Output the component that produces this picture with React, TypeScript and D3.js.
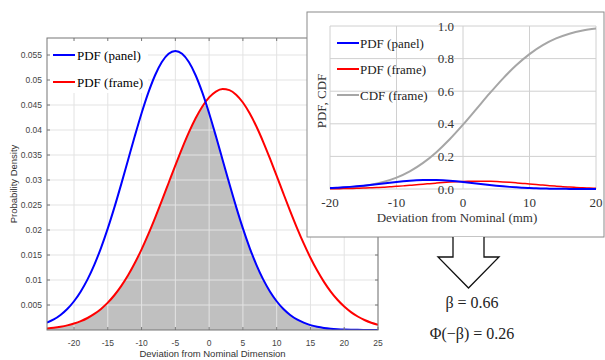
import React from "react";
import * as d3 from "d3";

// ---------- data ----------
const xValues = d3.range(-24, 26, 1); // -24 .. 25
const panelPdf = [
  0.00146, 0.00211, 0.00301, 0.0042, 0.00575, 0.00771, 0.01012, 0.01303, 0.01644, 0.02032,
  0.02462, 0.02923, 0.03402, 0.03879, 0.04335, 0.04747, 0.05095, 0.05359, 0.05524, 0.0558,
  0.05524, 0.05359, 0.05095, 0.04747, 0.04335, 0.03879, 0.03402, 0.02923, 0.02462, 0.02032,
  0.01644, 0.01303, 0.01012, 0.00771, 0.00575, 0.0042, 0.00301, 0.00211, 0.00146, 0.00098,
  0.00065, 0.00042, 0.00027, 0.00017, 0.0001, 0.00006, 0.00004, 0.00002, 0.00001, 0.00001,
];
const framePdf = [
  0.00031, 0.00045, 0.00065, 0.00092, 0.00129, 0.00177, 0.0024, 0.00321, 0.00422, 0.00547,
  0.007, 0.00882, 0.01094, 0.01339, 0.01613, 0.01916, 0.02243, 0.02587, 0.0294, 0.03292,
  0.03633, 0.03951, 0.04234, 0.0447, 0.04651, 0.04769, 0.04819, 0.04797, 0.04707, 0.0455,
  0.04334, 0.04069, 0.03764, 0.03431, 0.03081, 0.02727, 0.02379, 0.02044, 0.01731, 0.01445,
  0.01188, 0.00963, 0.00769, 0.00605, 0.00469, 0.00358, 0.0027, 0.002, 0.00146, 0.00105,
];
const cdfX = [-20, -18, -16, -14, -12, -10, -8, -6, -4, -2, 0, 2, 4, 6, 8, 10, 12, 14, 16, 18, 20];
const frameCdf = [
  0.0036, 0.0072, 0.0137, 0.0248, 0.0426, 0.0696, 0.1082, 0.1601, 0.2261, 0.3053, 0.3948,
  0.4904, 0.5863, 0.6775, 0.759, 0.8277, 0.8826, 0.9236, 0.9528, 0.9723, 0.9845,
];
const mainXTicks = [-20, -15, -10, -5, 0, 5, 10, 15, 20, 25];
const mainYTicks = [0.005, 0.01, 0.015, 0.02, 0.025, 0.03, 0.035, 0.04, 0.045, 0.05, 0.055];
const mainYTickLabels = ["0.005", "0.01", "0.015", "0.02", "0.025", "0.03", "0.035", "0.04", "0.045", "0.05", "0.055"];
const insetXTicks = [-20, -10, 0, 10, 20];
const insetYTicks = [0, 0.2, 0.4, 0.6, 0.8, 1.0];
const insetYTickLabels = ["0.0", "0.2", "0.4", "0.6", "0.8", "1.0"];
const mainLegend = ["PDF (panel)", "PDF (frame)"];
const insetLegend = ["PDF (panel)", "PDF (frame)", "CDF (frame)"];
const betaText = "β = 0.66";
const probText = "Φ(−β) = 0.26";

const SANS = "'Liberation Sans', Arial, Helvetica, sans-serif";
const SERIF = "'Liberation Serif', 'Times New Roman', serif";

export default function App() {
  // main chart
  const mL = 47, mR = 378, mT = 38, mB = 330;
  const x = d3.scaleLinear().domain([-24, 25]).range([mL, mR]);
  const y = d3.scaleLinear().domain([0, 0.0584]).range([mB, mT]);
  const pts = xValues.map((v, i) => ({ x: v, p: panelPdf[i], f: framePdf[i] }));
  const linePanel = d3.line<any>().x(d => x(d.x)).y(d => y(d.p)).curve(d3.curveMonotoneX);
  const lineFrame = d3.line<any>().x(d => x(d.x)).y(d => y(d.f)).curve(d3.curveMonotoneX);
  const areaPanel = d3.area<any>().x(d => x(d.x)).y0(y(0)).y1(d => y(d.p)).curve(d3.curveMonotoneX);
  const areaFrame = d3.area<any>().x(d => x(d.x)).y0(y(0)).y1(d => y(d.f)).curve(d3.curveMonotoneX);

  // inset chart
  const iL = 330, iR = 596, iT = 26, iB = 189;
  const ix = d3.scaleLinear().domain([-20, 20]).range([iL, iR]);
  const iy = d3.scaleLinear().domain([0, 1]).range([iB, iT]);
  const ipts = pts.filter(d => d.x >= -20 && d.x <= 20);
  const iLinePanel = d3.line<any>().x(d => ix(d.x)).y(d => iy(d.p)).curve(d3.curveMonotoneX);
  const iLineFrame = d3.line<any>().x(d => ix(d.x)).y(d => iy(d.f)).curve(d3.curveMonotoneX);
  const cdfPts = cdfX.map((v, i) => ({ x: v, c: frameCdf[i] }));
  const iLineCdf = d3.line<any>().x(d => ix(d.x)).y(d => iy(d.c)).curve(d3.curveMonotoneX);

  const axisColor = "#777";
  const tick = 3;

  return (
    <svg width={605} height={360} style={{ position: "absolute", left: 0, top: 0, background: "#fff" }}>
      <defs>
        <clipPath id="mainClip">
          <rect x={mL} y={mT} width={mR - mL} height={mB - mT} />
        </clipPath>
        <clipPath id="frameClip">
          <path d={areaFrame(pts) || ""} />
        </clipPath>
      </defs>

      {/* ---------- main chart ---------- */}
      <rect x={mL} y={mT} width={mR - mL} height={mB - mT} fill="#fff" />
      <g clipPath="url(#mainClip)">
        <g clipPath="url(#frameClip)">
          <path d={areaPanel(pts) || ""} fill="#c0c0c0" />
        </g>
      </g>
      {/* grid */}
      <g stroke="#e3e3e3" strokeWidth={1}>
        {mainXTicks.map(t => (
          <line key={"gx" + t} x1={x(t)} x2={x(t)} y1={mT} y2={mB} />
        ))}
        {mainYTicks.map(t => (
          <line key={"gy" + t} x1={mL} x2={mR} y1={y(t)} y2={y(t)} />
        ))}
      </g>
      {/* legend background */}
      <rect x={mL + 1} y={mT + 1} width={100} height={54} fill="#fff" />
      {/* curves */}
      <g clipPath="url(#mainClip)" fill="none" strokeWidth={2}>
        <path d={lineFrame(pts) || ""} stroke="#ff0000" />
        <path d={linePanel(pts) || ""} stroke="#0000ff" />
      </g>
      {/* axes box and ticks */}
      <rect x={mL} y={mT} width={mR - mL} height={mB - mT} fill="none" stroke={axisColor} strokeWidth={1} />
      <g stroke={axisColor} strokeWidth={1}>
        {mainXTicks.map(t => (
          <g key={"tx" + t}>
            <line x1={x(t)} x2={x(t)} y1={mB} y2={mB - tick} />
            <line x1={x(t)} x2={x(t)} y1={mT} y2={mT + tick} />
          </g>
        ))}
        {mainYTicks.map(t => (
          <g key={"ty" + t}>
            <line x1={mL} x2={mL + tick} y1={y(t)} y2={y(t)} />
            <line x1={mR} x2={mR - tick} y1={y(t)} y2={y(t)} />
          </g>
        ))}
      </g>
      <g fontFamily={SANS} fontSize={8.5} fill="#444">
        {mainXTicks.map(t => (
          <text key={"lx" + t} x={x(t)} y={346} textAnchor="middle">{t}</text>
        ))}
        {mainYTicks.map((t, i) => (
          <text key={"ly" + t} x={42} y={y(t) + 3} textAnchor="end">{mainYTickLabels[i]}</text>
        ))}
      </g>
      <text x={(mL + mR) / 2} y={357} textAnchor="middle" fontFamily={SANS} fontSize={9.5} fill="#333">
        Deviation from Nominal Dimension
      </text>
      <text
        transform={`translate(17,${(mT + mB) / 2}) rotate(-90)`}
        textAnchor="middle"
        fontFamily={SANS}
        fontSize={9.5}
        fill="#333"
      >
        Probability Density
      </text>
      {/* main legend */}
      <g fontFamily={SERIF} fontSize={13} fill="#000">
        {mainLegend.map((l, i) => (
          <g key={l}>
            <line x1={53} x2={75} y1={55 + i * 27} y2={55 + i * 27} stroke={i === 0 ? "#0000ff" : "#ff0000"} strokeWidth={2} />
            <text x={77} y={59.5 + i * 27}>{l}</text>
          </g>
        ))}
      </g>

      {/* ---------- inset ---------- */}
      <rect x={307} y={12} width={297} height={225} fill="#fff" stroke="#8a8a8a" strokeWidth={1} />
      <g stroke="#d0d0d0" strokeWidth={1}>
        {insetXTicks.map(t => (
          <line key={"igx" + t} x1={ix(t)} x2={ix(t)} y1={iT} y2={iB} />
        ))}
        {insetYTicks.map(t => (
          <line key={"igy" + t} x1={iL} x2={iR} y1={iy(t)} y2={iy(t)} />
        ))}
      </g>
      <g fontFamily={SERIF} fontSize={13} fill="#333">
        {insetYTicks.map((t, i) => (
          <text key={"ily" + t} x={454} y={iy(t) + 4.5} textAnchor="end">{insetYTickLabels[i]}</text>
        ))}
        {insetXTicks.map(t => (
          <text key={"ilx" + t} x={ix(t)} y={207} textAnchor="middle">{t}</text>
        ))}
        <text x={457} y={222} textAnchor="middle">Deviation  from Nominal (mm)</text>
        <text transform={`translate(326,101) rotate(-90)`} textAnchor="middle">PDF, CDF</text>
      </g>
      <g fill="none">
        <path d={iLineCdf(cdfPts) || ""} stroke="#a6a6a6" strokeWidth={2} />
        <path d={iLineFrame(ipts) || ""} stroke="#ff0000" strokeWidth={1.5} />
        <path d={iLinePanel(ipts) || ""} stroke="#0000ff" strokeWidth={2} />
      </g>
      <g fontFamily={SERIF} fontSize={13} fill="#222">
        {insetLegend.map((l, i) => (
          <g key={"il" + l}>
            <line
              x1={337}
              x2={359}
              y1={43 + i * 26}
              y2={43 + i * 26}
              stroke={["#0000ff", "#ff0000", "#a6a6a6"][i]}
              strokeWidth={2}
            />
            <text x={360} y={47.5 + i * 26}>{l}</text>
          </g>
        ))}
      </g>

      {/* ---------- arrow and result ---------- */}
      <path
        d="M453,237 L453,257 L438,257 L468.5,288 L499,257 L484,257 L484,237"
        fill="#fff"
        stroke="#111"
        strokeWidth={1.3}
        strokeLinejoin="miter"
      />
      <g fontFamily={SERIF} fontSize={16} fill="#222" textAnchor="middle">
        <text x={472} y={308}>{betaText}</text>
        <text x={472} y={339}>{probText}</text>
      </g>
    </svg>
  );
}
